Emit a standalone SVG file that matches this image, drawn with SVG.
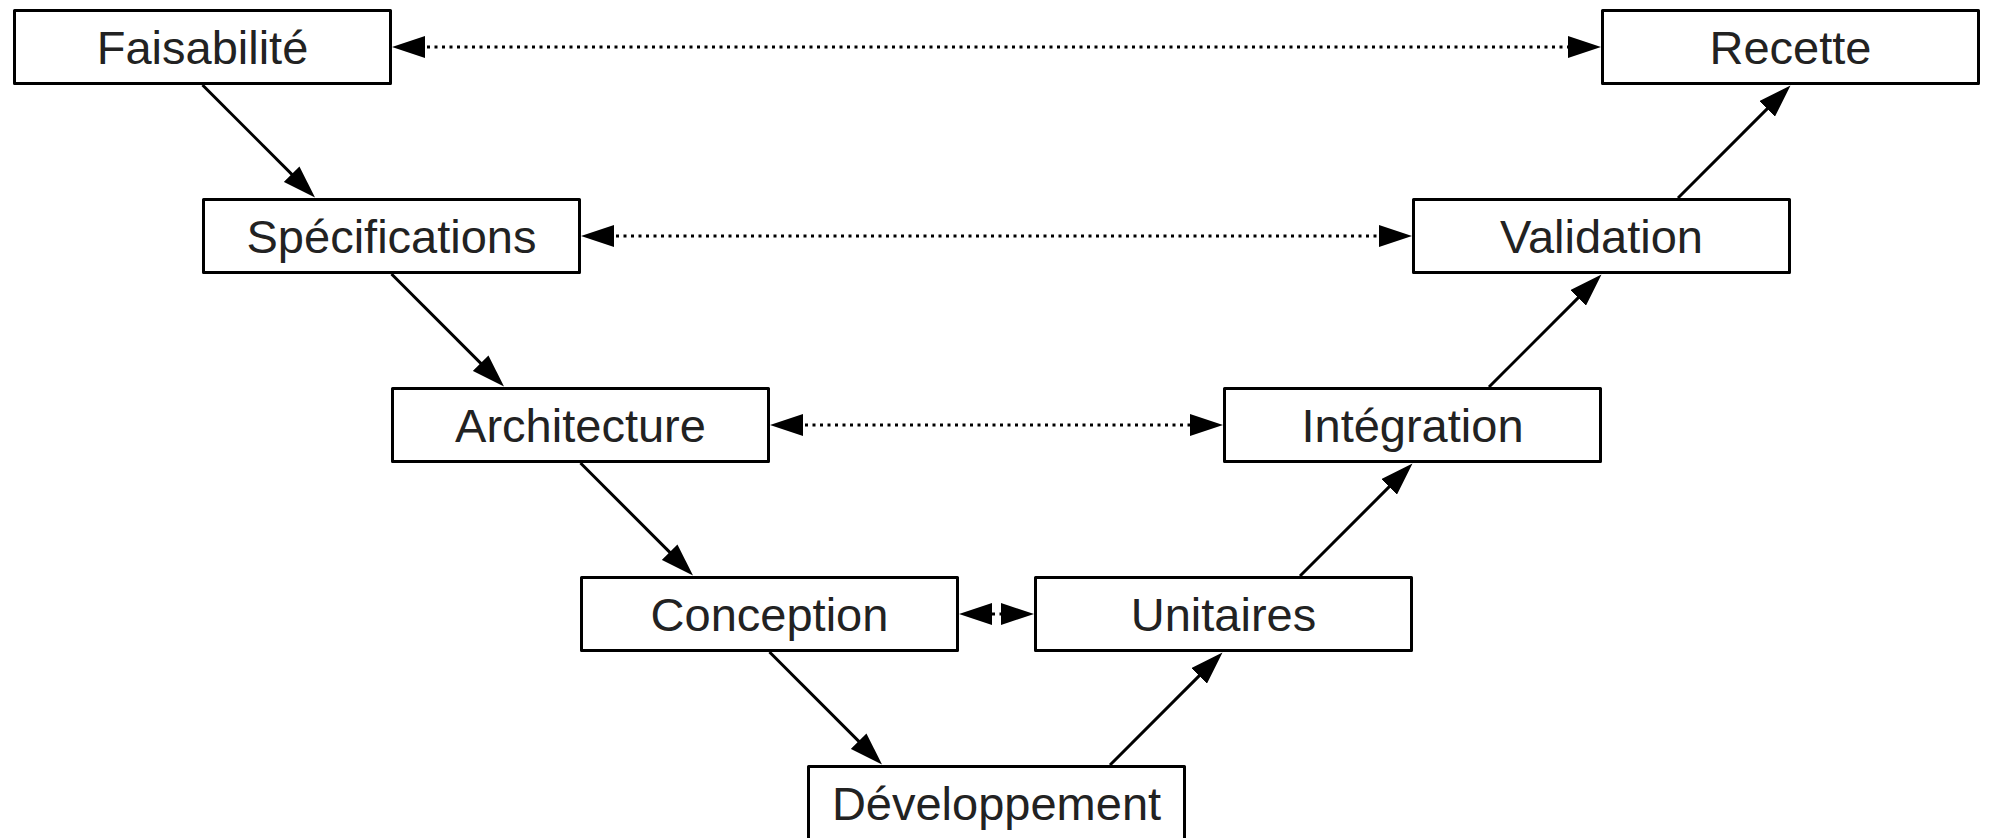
<svg xmlns="http://www.w3.org/2000/svg" width="1991" height="838" viewBox="0 0 1991 838">
<style>
.box rect{fill:#fff;stroke:#000;stroke-width:3;stroke-linejoin:round}
.box text{font-family:"Liberation Sans",Arial,sans-serif;font-size:47px;fill:#222;text-anchor:middle}
.solid{stroke:#000;stroke-width:3;fill:none;marker-end:url(#ah)}
.dot{stroke:#000;stroke-width:3;fill:none;stroke-dasharray:3 4.5;marker-start:url(#ah);marker-end:url(#ah)}
</style>
<defs>
<marker id="ah" markerUnits="userSpaceOnUse" viewBox="0 0 33 22" markerWidth="33" markerHeight="22" refX="13" refY="11" orient="auto-start-reverse">
<path d="M0,0 L33,11 L0,22 Z" fill="#000"/>
</marker>
</defs>
<rect width="1991" height="838" fill="#fff"/>
<g id="connectors">
<line class="solid" x1="202.5" y1="85" x2="300.86" y2="183.36"/>
<line class="solid" x1="391.5" y1="274" x2="489.86" y2="372.36"/>
<line class="solid" x1="580.5" y1="463" x2="678.86" y2="561.36"/>
<line class="solid" x1="769.5" y1="652" x2="867.86" y2="750.36"/>
<line class="solid" x1="1110" y1="765" x2="1208.36" y2="666.64"/>
<line class="solid" x1="1300" y1="576" x2="1398.36" y2="477.64"/>
<line class="solid" x1="1489" y1="387" x2="1587.36" y2="288.64"/>
<line class="solid" x1="1678" y1="198" x2="1776.36" y2="99.64"/>
<line class="dot" x1="412" y1="47" x2="1581" y2="47"/>
<line class="dot" x1="601" y1="236" x2="1392" y2="236"/>
<line class="dot" x1="790" y1="425" x2="1203" y2="425"/>
<line class="dot" x1="979" y1="614" x2="1014" y2="614" stroke-dashoffset="2"/>
</g>
<g id="faisabilite" class="box"><rect x="14.5" y="10.5" width="376" height="73"/><text x="202.5" y="64">Faisabilité</text></g>
<g id="specifications" class="box"><rect x="203.5" y="199.5" width="376" height="73"/><text x="391.5" y="253">Spécifications</text></g>
<g id="architecture" class="box"><rect x="392.5" y="388.5" width="376" height="73"/><text x="580.5" y="442">Architecture</text></g>
<g id="conception" class="box"><rect x="581.5" y="577.5" width="376" height="73"/><text x="769.5" y="631">Conception</text></g>
<g id="developpement" class="box"><rect x="808.5" y="766.5" width="376" height="73"/><text x="996.5" y="820">Développement</text></g>
<g id="unitaires" class="box"><rect x="1035.5" y="577.5" width="376" height="73"/><text x="1223.5" y="631">Unitaires</text></g>
<g id="integration" class="box"><rect x="1224.5" y="388.5" width="376" height="73"/><text x="1412.5" y="442">Intégration</text></g>
<g id="validation" class="box"><rect x="1413.5" y="199.5" width="376" height="73"/><text x="1601.5" y="253">Validation</text></g>
<g id="recette" class="box"><rect x="1602.5" y="10.5" width="376" height="73"/><text x="1790.5" y="64">Recette</text></g>
</svg>
